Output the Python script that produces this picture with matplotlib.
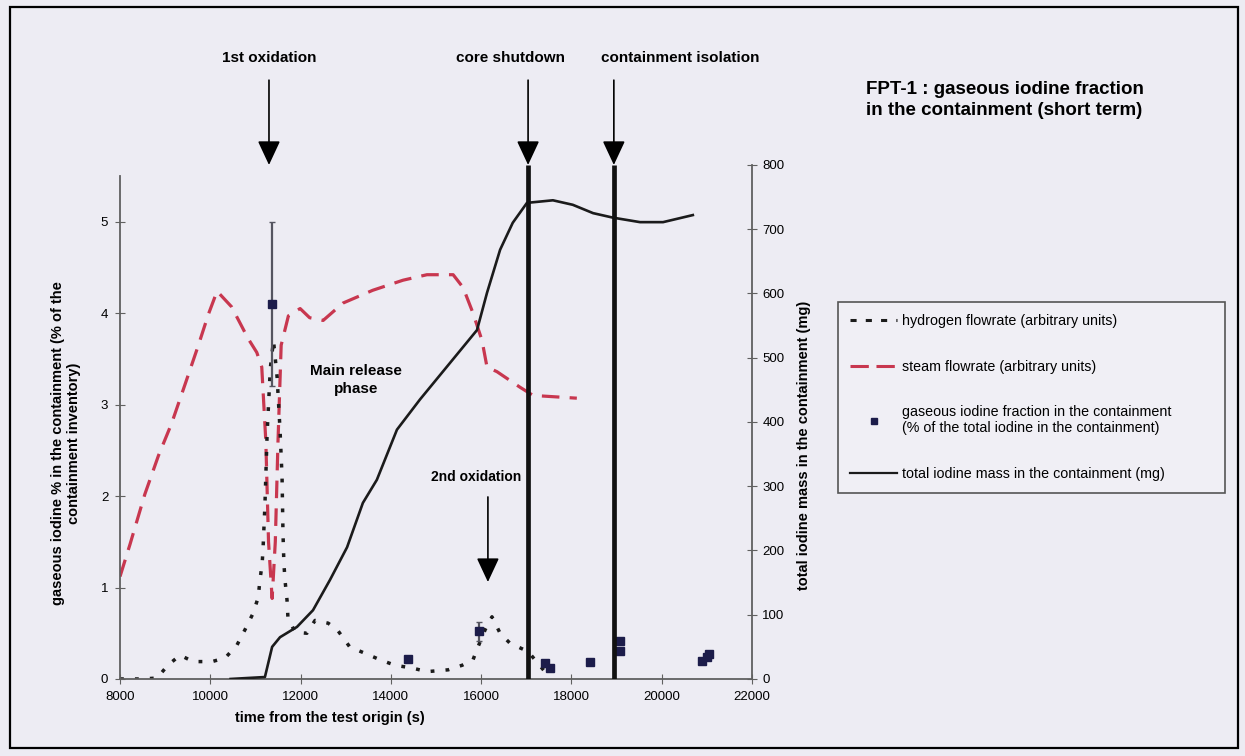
import matplotlib
matplotlib.use('Agg')
import matplotlib.pyplot as plt
from matplotlib.lines import Line2D
from matplotlib.patches import Rectangle

plt.rcParams['font.family'] = ['Liberation Sans', 'DejaVu Sans']

# steam flowrate (arbitrary units, drawn on the % axis)
steam_t = [8000, 8220, 8550, 8850, 9140, 9440, 9730, 9960, 10150, 10470, 10840,
           11030, 11140, 11230, 11290, 11370, 11440, 11500, 11570, 11730, 11990,
           12200, 12500, 12940, 13600, 14270, 14800, 15380, 15600, 15820, 16020,
           16130, 16350, 16860, 17150, 18120]
steam_v = [1.12, 1.47, 2.02, 2.44, 2.79, 3.22, 3.64, 3.99, 4.24, 4.07, 3.72,
           3.57, 3.41, 2.6, 1.5, 0.88, 1.5, 2.6, 3.65, 3.97, 4.05,
           3.95, 3.92, 4.11, 4.25, 4.36, 4.42, 4.42, 4.28, 4.0, 3.70,
           3.41, 3.36, 3.19, 3.10, 3.07]

# hydrogen flowrate (arbitrary units)
h2_t = [8000, 8490, 8820, 9060, 9330, 9620, 10040, 10330, 10590, 10770, 10950,
        11060, 11100, 11150, 11170, 11210, 11260, 11330, 11400, 11480, 11545,
        11590, 11610, 11630, 11655, 11700, 11720, 11880, 12140, 12320, 12610,
        12810, 13090, 13430, 13760, 14090, 14470, 14800, 15270, 15580, 15820,
        15930, 16090, 16240, 16420, 16640, 17040, 17260, 17480]
h2_v = [0, 0, 0.01, 0.15, 0.26, 0.19, 0.19, 0.23, 0.37, 0.54, 0.72,
        0.89, 1.08, 1.27, 1.44, 1.9, 2.7, 3.4, 3.7, 3.3, 2.72,
        2.2, 1.6, 1.27, 1.08, 0.86, 0.67, 0.51, 0.50, 0.64, 0.61,
        0.54, 0.35, 0.28, 0.21, 0.15, 0.12, 0.08, 0.10, 0.15, 0.21,
        0.35, 0.54, 0.68, 0.50, 0.39, 0.30, 0.17, 0.04]

# total iodine mass in the containment (mg)
iod_t = [10450, 11210, 11370, 11545, 11920, 12275, 12650, 13030, 13380, 13690,
         14135, 14645, 15908, 16130, 16420, 16700, 17015, 17590, 18030, 18480,
         18920, 19520, 20030, 20690]
iod_mg = [0, 3, 50, 65, 81, 107, 154, 205, 274, 310,
          388, 435, 543, 601, 668, 710, 741, 745, 738, 725,
          718, 711, 711, 722]

# gaseous iodine fraction (% of total iodine in the containment)
frac_t = [11367, 14380, 15950, 17420, 17520, 18410, 19070, 19070, 20900, 21000, 21050]
frac_v = [4.10, 0.22, 0.52, 0.17, 0.12, 0.19, 0.42, 0.31, 0.20, 0.24, 0.27]
frac_err = [0.9, 0, 0.1, 0, 0, 0, 0, 0, 0, 0, 0]

ox1_t = 11300
ox2_t = 16150
shutdown_t = 17040
isolation_t = 18940

fig = plt.figure(figsize=(12.45, 7.56), dpi=100, facecolor='#EDECF3')
fig.patches.append(Rectangle((0.008, 0.011), 0.986, 0.98, transform=fig.transFigure,
                             fill=False, edgecolor='k', lw=1.6))

ax = fig.add_axes([0.0964, 0.1019, 0.5076, 0.6799])
ax.set_facecolor('none')
ax2 = ax.twinx()

red = '#C8374F'
ink = '#1b1b1b'

ax.plot(steam_t, steam_v, color=red, lw=2.3, dashes=(5.5, 3.2))
ax.plot(h2_t, h2_v, color=ink, lw=2.5, dashes=(1.1, 3.2))
ax.errorbar(frac_t, frac_v, yerr=frac_err, fmt='s', ms=5.5, color='#1c1c4a',
            ecolor='#555560', elinewidth=1.6, capsize=2.5)

ax2.plot(iod_t, iod_mg, color=ink, lw=1.9)
ax2.vlines([shutdown_t, isolation_t], 0, 800, colors='#111111', lw=3.4)

ax.set_xlim(8000, 22000)
ax.set_ylim(0, 5.62)
ax2.set_ylim(0, 800)
ax.set_xticks(range(8000, 22001, 2000))
ax.set_yticks(range(0, 6))
ax2.set_yticks(range(0, 801, 100))

for s in ['top', 'right']:
    ax.spines[s].set_visible(False)
for s in ['top', 'left', 'bottom']:
    ax2.spines[s].set_visible(False)
ax.spines['left'].set_bounds(0, 5.5)
for sp in [ax.spines['left'], ax.spines['bottom'], ax2.spines['right']]:
    sp.set_color('#606060')
    sp.set_linewidth(1.3)

ax.tick_params(direction='inout', length=7, color='#606060', labelsize=9.5, pad=5)
ax2.tick_params(direction='inout', length=7, color='#606060', labelsize=9.5, pad=4)

ax.set_xlabel('time from the test origin (s)', fontsize=10.5, fontweight='bold')
ax.xaxis.set_label_coords(0.332, -0.062)
fig.text(66 / 1245, 1 - 443 / 756,
         'gaseous iodine % in the containment (% of the\ncontainment inventory)',
         rotation=90, ha='center', va='center', fontsize=10.5, fontweight='bold',
         multialignment='center')
ax2.set_ylabel('total iodine mass in the containment (mg)', fontsize=10.5,
               fontweight='bold')
ax2.yaxis.set_label_coords(1.071, 0.455)

fig.text(866 / 1245, 1 - 100 / 756,
         'FPT-1 : gaseous iodine fraction\nin the containment (short term)',
         ha='left', va='center', fontsize=13.5, fontweight='bold', linespacing=1.35)

# event arrows
head = '-|>,head_length=0.75,head_width=0.35'
top_tr = ax.get_xaxis_transform()
for t in [ox1_t, shutdown_t, isolation_t]:
    ax.annotate('', xy=(t, 1.0), xycoords=top_tr, xytext=(t, 1.165), textcoords=top_tr,
                arrowprops=dict(arrowstyle=head, color='k', lw=1.2, shrinkA=0, shrinkB=0,
                                mutation_scale=20), annotation_clip=False)
ax.text(ox1_t, 1.208, '1st oxidation', transform=top_tr, ha='center', va='center',
        fontsize=11, fontweight='bold')
ax.text(16650, 1.208, 'core shutdown', transform=top_tr, ha='center', va='center',
        fontsize=11, fontweight='bold')
ax.text(20400, 1.208, 'containment isolation', transform=top_tr, ha='center', va='center',
        fontsize=11, fontweight='bold')

ax.annotate('', xy=(ox2_t, 1.06), xytext=(ox2_t, 1.99),
            arrowprops=dict(arrowstyle=head, color='k', lw=1.2, shrinkA=0, shrinkB=0,
                            mutation_scale=20))
ax.text(15880, 2.21, '2nd oxidation', ha='center', va='center', fontsize=10,
        fontweight='bold')
ax.text(13230, 3.27, 'Main release\nphase', ha='center', va='center', fontsize=11,
        fontweight='bold', linespacing=1.4)

handles = [Line2D([], [], color=ink, lw=2.2, dashes=(2, 3)),
           Line2D([], [], color=red, lw=2.2, dashes=(6, 2.5)),
           Line2D([], [], color='#1c1c4a', marker='s', ms=5, ls='none'),
           Line2D([], [], color=ink, lw=1.6)]
labels = ['hydrogen flowrate (arbitrary units)',
          'steam flowrate (arbitrary units)',
          'gaseous iodine fraction in the containment\n(% of the total iodine in the containment)',
          'total iodine mass in the containment (mg)']
leg = fig.legend(handles, labels, loc='upper left',
                 bbox_to_anchor=(838 / 1245, 1 - 503 / 756, 387 / 1245, 201 / 756),
                 mode='expand', fontsize=10.3, labelspacing=2.2, borderpad=0.85,
                 handlelength=3.3, handletextpad=0.3, borderaxespad=0, fancybox=False,
                 edgecolor='#555555', facecolor='#F0EFF5', framealpha=1)
leg.get_frame().set_linewidth(1.2)

fig.savefig('out.png', dpi=100, facecolor=fig.get_facecolor())
